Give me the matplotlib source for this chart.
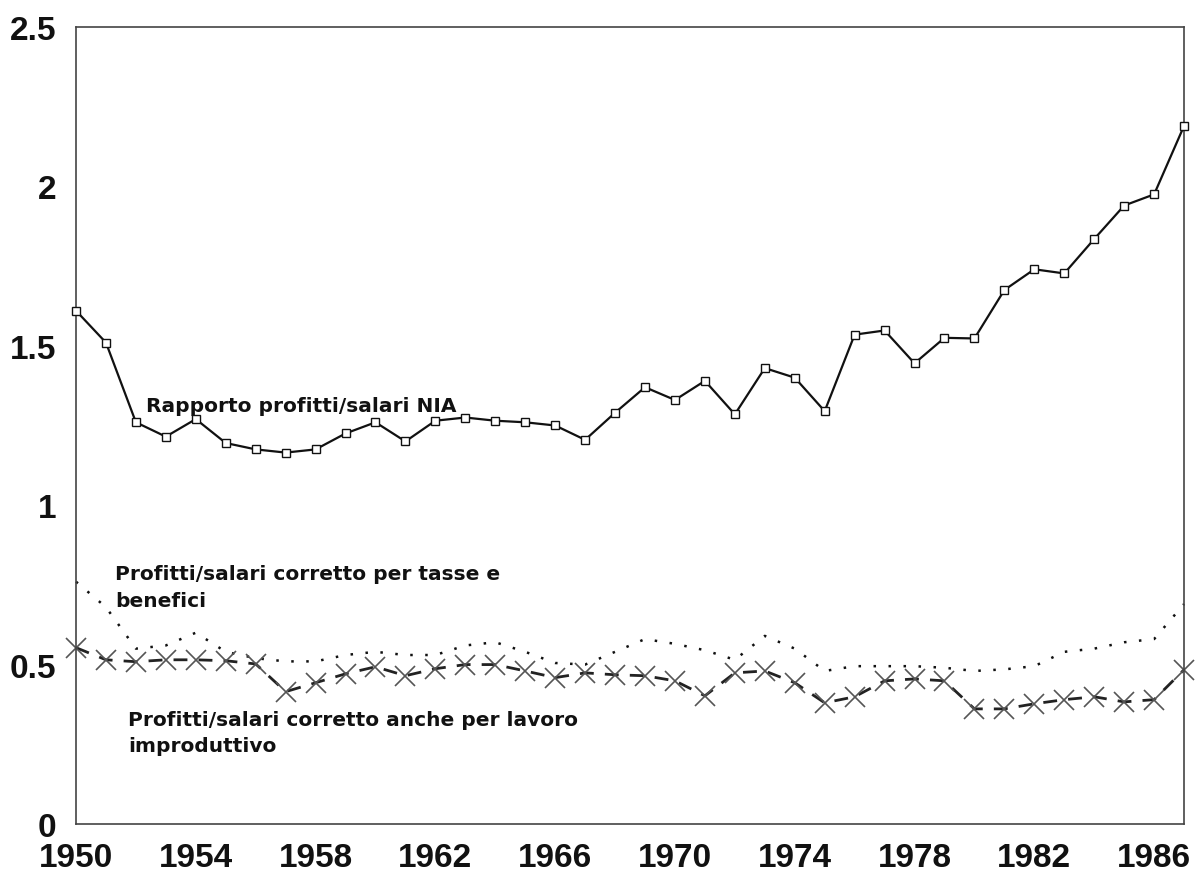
"""
Rapporto profitti/salari, USA 1950-1987
"""

import os
import numpy as np
import matplotlib
matplotlib.use('Agg')
import matplotlib.pyplot as plt
from matplotlib import font_manager

plt.rcParams['font.family'] = ['Liberation Sans', 'DejaVu Sans']

# Pick the regular-width Liberation Sans Bold file (avoid the Narrow cut)
bold_path = None
for f in font_manager.findSystemFonts():
    if os.path.basename(f) == 'LiberationSans-Bold.ttf':
        bold_path = f
        break
if bold_path:
    tick_font = font_manager.FontProperties(fname=bold_path)
else:
    tick_font = font_manager.FontProperties(family='DejaVu Sans', weight='bold')

# Data
years = list(range(1950, 1988))

nia = [1.61, 1.51, 1.26, 1.215, 1.27, 1.195, 1.175, 1.165, 1.175, 1.225,
       1.26, 1.20, 1.265, 1.275, 1.265, 1.26, 1.25, 1.205, 1.29, 1.37,
       1.33, 1.39, 1.285, 1.43, 1.40, 1.295, 1.535, 1.548, 1.445, 1.525,
       1.523, 1.675, 1.74, 1.727, 1.835, 1.94, 1.975, 2.19]

tasse = [0.76, 0.68, 0.55, 0.56, 0.60, 0.54, 0.52, 0.51, 0.51, 0.53,
         0.54, 0.53, 0.53, 0.56, 0.57, 0.54, 0.505, 0.50, 0.54, 0.58,
         0.565, 0.545, 0.515, 0.59, 0.55, 0.48, 0.495, 0.495, 0.495, 0.49,
         0.48, 0.485, 0.495, 0.54, 0.55, 0.57, 0.58, 0.69]

improd = [0.553, 0.515, 0.509, 0.515, 0.515, 0.512, 0.502, 0.415, 0.443, 0.471,
          0.493, 0.465, 0.487, 0.50, 0.50, 0.48, 0.459, 0.474, 0.468, 0.465,
          0.449, 0.402, 0.474, 0.48, 0.443, 0.38, 0.399, 0.449, 0.455, 0.449,
          0.361, 0.361, 0.377, 0.39, 0.399, 0.383, 0.39, 0.484]

xticks = list(range(1950, 1987, 4))
yticks = [0, 0.5, 1, 1.5, 2, 2.5]
ytick_labels = ['0', '0.5', '1', '1.5', '2', '2.5']

INK = '#111111'

fig = plt.figure(figsize=(11.97, 8.78), dpi=100)
fig.patch.set_facecolor('white')
ax = fig.add_axes([0.0635, 0.0604, 0.9257, 0.9077])

# Series
ax.plot(years, nia, color=INK, lw=1.6, marker='s', ms=6,
        mfc='white', mec=INK, mew=1.0, zorder=3, clip_on=False)
ax.plot(years, tasse, color=INK, lw=1.8, linestyle=(0, (1, 5)), zorder=2,
        clip_on=False)
ax.plot(years, improd, color='#222222', lw=2.0, linestyle=(0, (5, 4)),
        marker='x', ms=15, mec='#555555', mew=1.2, zorder=2, clip_on=False)

# Labels on the lines
label_kw = dict(fontsize=14.5, fontweight='bold', color=INK, ha='left',
                va='baseline', family='DejaVu Sans')
ax.text(1952.35, 1.297, 'Rapporto profitti/salari NIA', **label_kw)
ax.text(1951.3, 0.770, 'Profitti/salari corretto per tasse e', **label_kw)
ax.text(1951.3, 0.684, 'benefici', **label_kw)
ax.text(1951.75, 0.310, 'Profitti/salari corretto anche per lavoro', **label_kw)
ax.text(1951.75, 0.228, 'improduttivo', **label_kw)

# Axes
ax.set_xlim(1950, 1987)
ax.set_ylim(0, 2.5)
ax.set_xticks(xticks)
ax.set_xticklabels([str(y) for y in xticks])
ax.set_yticks(yticks)
ax.set_yticklabels(ytick_labels)
for lab in ax.get_xticklabels():
    lab.set_fontproperties(tick_font)
    lab.set_fontsize(24)
for lab in ax.get_yticklabels():
    lab.set_fontproperties(tick_font)
    lab.set_fontsize(24)
ax.tick_params(axis='both', length=0, colors=INK)
ax.tick_params(axis='x', pad=13)
ax.tick_params(axis='y', pad=14)
for s in ax.spines.values():
    s.set_color('#444444')
    s.set_linewidth(1.2)

plt.savefig('out.png', dpi=100, facecolor='white')
plt.close()
